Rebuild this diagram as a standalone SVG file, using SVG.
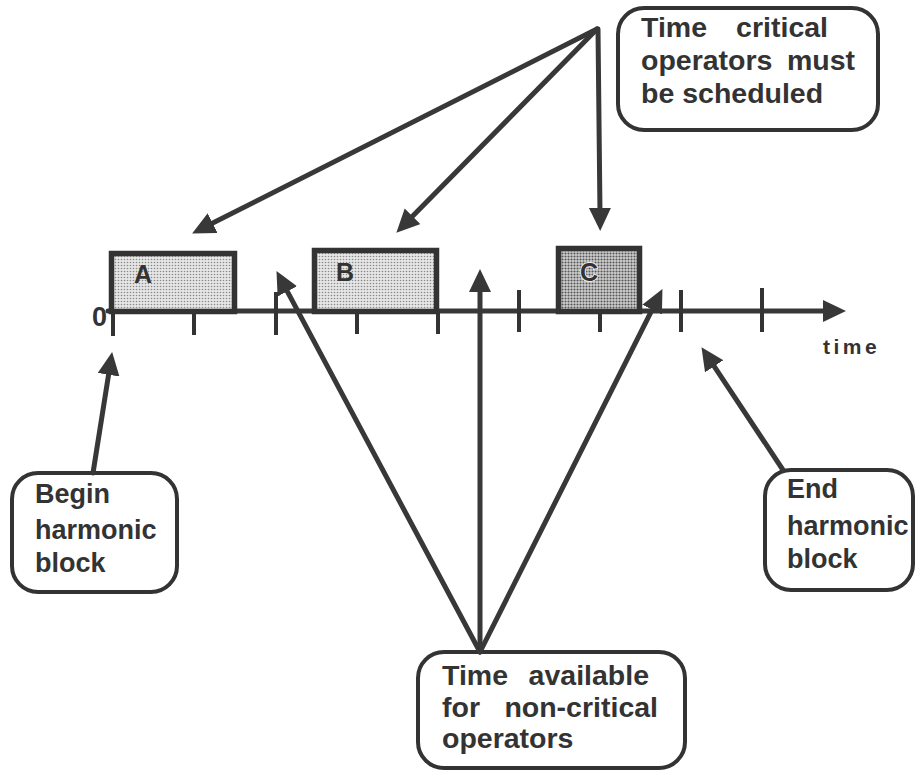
<svg xmlns="http://www.w3.org/2000/svg" width="918" height="771" viewBox="0 0 918 771">
  <style>
    .txt { font-family: "Liberation Sans", Arial, sans-serif; font-weight: bold; fill: #333; }
    .callout { font-size: 27px; }
    .wide { font-size: 28.5px; }
    .box { fill: none; stroke: #333; stroke-width: 4; }
    .block { stroke: #333; stroke-width: 5.5; }
    .conn { stroke: #383838; stroke-width: 5; fill: none; stroke-linecap: round; marker-end: url(#head); }
    .tick { stroke: #333; stroke-width: 4; }
  </style>
  <defs>
    <marker id="head" markerUnits="userSpaceOnUse" markerWidth="26" markerHeight="24" refX="6" refY="11" orient="auto">
      <path d="M0,0 L23,11 L0,22 z" fill="#383838"/>
    </marker>
    <pattern id="dotsLight" width="3" height="3" patternUnits="userSpaceOnUse">
      <rect width="3" height="3" fill="#e6e6e6"/>
      <circle cx="1.5" cy="1.5" r="0.8" fill="#8a8a8a"/>
    </pattern>
    <pattern id="dotsDark" width="3" height="3" patternUnits="userSpaceOnUse">
      <rect width="3" height="3" fill="#cfcfcf"/>
      <circle cx="1.5" cy="1.5" r="1.05" fill="#555"/>
    </pattern>
  </defs>
  <rect width="918" height="771" fill="#fff"/>

  <!-- time axis -->
  <g id="axis">
    <line class="conn" x1="108" y1="311" x2="829" y2="311"/>
    <line class="tick" x1="113" y1="311" x2="113" y2="336"/>
    <line class="tick" x1="194" y1="311" x2="194" y2="335"/>
    <line class="tick" x1="276" y1="292" x2="276" y2="335"/>
    <line class="tick" x1="357" y1="311" x2="357" y2="334"/>
    <line class="tick" x1="438" y1="311" x2="438" y2="334"/>
    <line class="tick" x1="519" y1="290" x2="519" y2="332"/>
    <line class="tick" x1="600" y1="311" x2="600" y2="332"/>
    <line class="tick" x1="681" y1="290" x2="681" y2="332"/>
    <line class="tick" x1="762" y1="288" x2="762" y2="332"/>
    <text class="txt" x="92" y="326" font-size="27">0</text>
    <text class="txt" x="823" y="354" font-size="21" letter-spacing="3.5">time</text>
  </g>

  <!-- scheduled operators -->
  <g id="opA">
    <rect class="block" x="111.5" y="253.5" width="123" height="58" fill="url(#dotsLight)"/>
    <text class="txt" x="134" y="283" font-size="25">A</text>
  </g>
  <g id="opB">
    <rect class="block" x="314.5" y="250.5" width="122" height="61" fill="url(#dotsLight)"/>
    <text class="txt" x="336" y="281" font-size="25">B</text>
  </g>
  <g id="opC">
    <rect class="block" x="558.5" y="248.5" width="81" height="63" fill="url(#dotsDark)"/>
    <text class="txt" x="580" y="281" font-size="25" stroke="#eee" stroke-width="2" paint-order="stroke">C</text>
  </g>

  <!-- callouts -->
  <g id="critical">
    <rect class="box" x="618" y="8" width="260" height="122" rx="26"/>
    <text class="txt wide" y="37"><tspan x="641">Time</tspan><tspan x="828" text-anchor="end">critical</tspan></text>
    <text class="txt wide" y="70"><tspan x="641">operators</tspan><tspan x="855" text-anchor="end">must</tspan></text>
    <text class="txt wide" x="641" y="103">be scheduled</text>
  </g>
  <g id="begin">
    <rect class="box" x="12" y="473" width="165" height="119" rx="26"/>
    <text class="txt callout" x="35" y="503">Begin</text>
    <text class="txt callout" x="35" y="539">harmonic</text>
    <text class="txt callout" x="35" y="572">block</text>
  </g>
  <g id="end">
    <rect class="box" x="765" y="470" width="148" height="120" rx="26"/>
    <text class="txt callout" x="787" y="498">End</text>
    <text class="txt callout" x="787" y="535">harmonic</text>
    <text class="txt callout" x="787" y="568">block</text>
  </g>
  <g id="available">
    <rect class="box" x="418" y="652" width="267" height="116" rx="26"/>
    <text class="txt wide" y="685"><tspan x="442">Time</tspan><tspan x="649" text-anchor="end">available</tspan></text>
    <text class="txt wide" y="717"><tspan x="442">for</tspan><tspan x="658" text-anchor="end">non-critical</tspan></text>
    <text class="txt wide" x="442" y="748">operators</text>
  </g>

  <!-- connectors -->
  <g id="connectors">
    <line class="conn" x1="597" y1="29" x2="207.3" y2="225.8"/>
    <line class="conn" x1="597" y1="29" x2="408.3" y2="220.6"/>
    <line class="conn" x1="598" y1="29" x2="600" y2="214"/>
    <line class="conn" x1="93" y1="473" x2="109.5" y2="368.8"/>
    <line class="conn" x1="783" y1="470" x2="710.9" y2="361.3"/>
    <line class="conn" x1="480" y1="652" x2="284.5" y2="286.1"/>
    <line class="conn" x1="480" y1="652" x2="480" y2="286"/>
    <line class="conn" x1="480" y1="652" x2="654.8" y2="304.3"/>
  </g>
</svg>
